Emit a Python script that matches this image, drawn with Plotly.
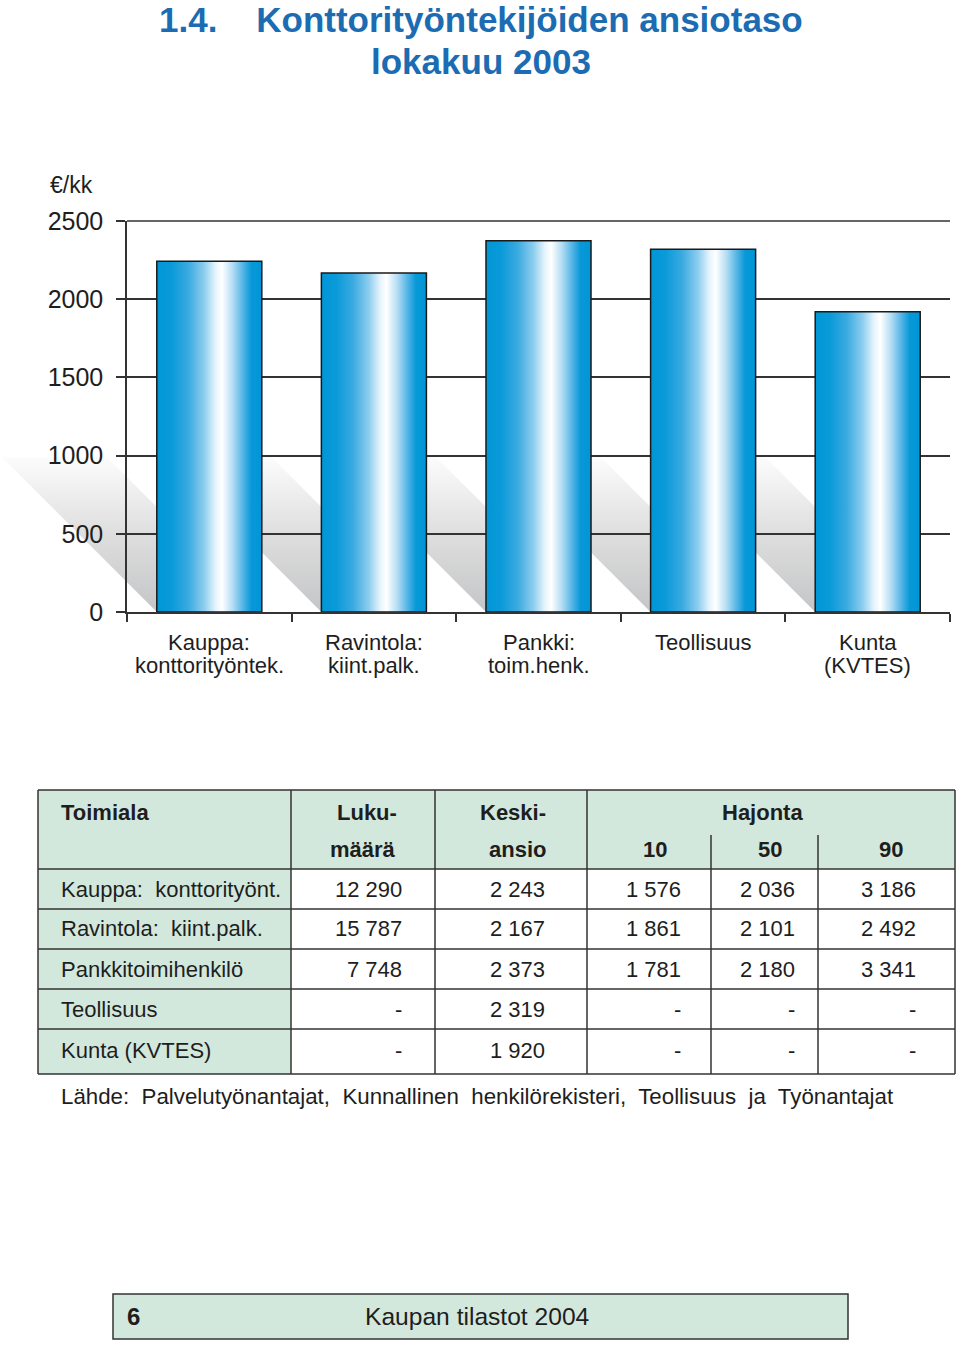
import plotly.graph_objects as go

W, H = 960, 1348

# ---------------- data ----------------
title_line1 = "1.4.\u00a0\u00a0\u00a0 Konttorityöntekijöiden ansiotaso"
title_line2 = "lokakuu 2003"
unit_label = "€/kk"

cat_line1 = ["Kauppa:", "Ravintola:", "Pankki:", "Teollisuus", "Kunta"]
cat_line2 = ["konttorityöntek.", "kiint.palk.", "toim.henk.", "", "(KVTES)"]
keskiansio = [2243, 2167, 2373, 2319, 1920]
y_ticks = [0, 500, 1000, 1500, 2000, 2500]

table_header_1 = ["Toimiala", "Luku-", "Keski-", "Hajonta"]
table_header_2 = ["määrä", "ansio", "10", "50", "90"]
row_labels = ["Kauppa:\u00a0 konttorityönt.", "Ravintola:\u00a0 kiint.palk.",
              "Pankkitoimihenkilö", "Teollisuus", "Kunta (KVTES)"]
lukumaara = ["12 290", "15 787", "7 748", "-", "-"]
hajonta_10 = ["1 576", "1 861", "1 781", "-", "-"]
hajonta_50 = ["2 036", "2 101", "2 180", "-", "-"]
hajonta_90 = ["3 186", "2 492", "3 341", "-", "-"]
source_text = ("Lähde:\u00a0 Palvelutyönantajat,\u00a0 Kunnallinen\u00a0 henkilörekisteri,"
               "\u00a0 Teollisuus\u00a0 ja\u00a0 Työnantajat")
footer_page = "6"
footer_text = "Kaupan tilastot 2004"

# ---------------- style / geometry ----------------
FONT = "Liberation Sans, Arial, Helvetica, sans-serif"
TXT = "#1e1e1e"
LINE = "#333333"
GREEN = "#d3e8dc"
TITLE_BLUE = "#1b6cb3"

PL, PR, PY0, PYT = 127, 950, 612, 221  # plot area pixels
YMAX = 2500
ncat = len(keskiansio)
ppu_x = (PR - PL) / ncat
ppu_y = (PY0 - PYT) / YMAX


def X(px):
    return px / W


def Y(py):
    return 1 - py / H


fig = go.Figure()

# shadows (on wide helper subplot)
half_w = 0.319
sh_px = 155
dx = sh_px / ppu_x
dy = sh_px / ppu_y
for i, v in enumerate(keskiansio):
    c = i + 0.5
    xl, xr = c - half_w, c + half_w
    fig.add_trace(go.Scatter(
        x=[xl, xl - dx, xr - dx, xr, xl], y=[0, dy, dy, 0, 0],
        mode="lines", fill="toself", line=dict(width=0, color="rgba(0,0,0,0)"),
        fillgradient=dict(type="vertical",
                          colorscale=[[0, "#c4c5c7"], [0.5, "#dedede"], [1, "#fcfcfc"]]),
        hoverinfo="skip", showlegend=False, xaxis="x", yaxis="y"))

# bars with horizontal gradient
bar_scale = [[0, "#0096d6"], [0.14, "#0a9ad9"], [0.3, "#3aaae0"], [0.45, "#8ccdee"],
             [0.56, "#e6f4fc"], [0.62, "#ffffff"], [0.72, "#b6def4"], [0.82, "#55b5e6"],
             [0.9, "#0898d8"], [1, "#0096d6"]]
for i, v in enumerate(keskiansio):
    c = i + 0.5
    xl, xr = c - half_w, c + half_w
    fig.add_trace(go.Scatter(
        x=[xl, xl, xr, xr, xl], y=[0, v, v, 0, 0],
        mode="lines", fill="toself", line=dict(width=1.5, color="#1a1a1a"),
        fillgradient=dict(type="horizontal", colorscale=bar_scale),
        hoverinfo="skip", showlegend=False, xaxis="x2", yaxis="y2"))

ydom = [Y(PY0), Y(PYT)]
fig.update_layout(
    width=W, height=H, autosize=False,
    margin=dict(l=0, r=0, t=0, b=0, pad=0, autoexpand=False),
    paper_bgcolor="white", plot_bgcolor="rgba(0,0,0,0)",
    font=dict(family=FONT, color=TXT),
    showlegend=False,
    xaxis=dict(domain=[0, X(PR)], range=[-PL / ppu_x, ncat], visible=False,
               anchor="y", fixedrange=True, automargin=False),
    yaxis=dict(domain=ydom, range=[0, YMAX], visible=False, anchor="x",
               fixedrange=True, automargin=False),
    xaxis2=dict(domain=[X(PL), X(PR)], range=[0, ncat], anchor="y2",
                showline=True, linecolor=LINE, linewidth=1.5,
                tickmode="array", tickvals=list(range(ncat + 1)), ticks="outside",
                ticklen=8, tickwidth=1.5, tickcolor=LINE, showticklabels=False,
                showgrid=False, zeroline=False, fixedrange=True, automargin=False),
    yaxis2=dict(domain=ydom, range=[0, YMAX], anchor="x2",
                tickmode="array", tickvals=y_ticks, ticks="outside", ticklen=9,
                tickwidth=1.5, tickcolor=LINE, showline=True, linecolor=LINE,
                linewidth=1.5, showgrid=True, gridcolor=LINE, gridwidth=1.5,
                zeroline=False, tickfont=dict(size=25, color=TXT, family=FONT),
                ticklabelstandoff=8, fixedrange=True, automargin=False),
)

annotations = []
shapes = []

# top gridline (at the range edge, which plotly leaves out)
shapes.append(dict(type="line", xref="paper", yref="paper",
                   x0=X(PL), x1=X(PR), y0=Y(PYT), y1=Y(PYT),
                   line=dict(width=1.5, color=LINE)))


def txt(x, y, text, xanchor="center", size=22, bold=False, color=TXT, family=FONT,
        xref="paper"):
    annotations.append(dict(
        x=x, y=y, xref=xref, yref="paper", text=text, showarrow=False,
        xanchor=xanchor, yanchor="middle",
        font=dict(size=size, color=color, family=family,
                  weight="bold" if bold else "normal")))


# title
txt(X(481), Y(19), title_line1, size=35, bold=True, color=TITLE_BLUE)
txt(X(481), Y(61), title_line2, size=35, bold=True, color=TITLE_BLUE)
txt(X(48), Y(185), unit_label, xanchor="left", size=23)

# category labels
for i in range(ncat):
    txt(i + 0.5, Y(642), cat_line1[i], size=22, xref="x2")
    if cat_line2[i]:
        txt(i + 0.5, Y(665), cat_line2[i], size=22, xref="x2")

# ---------------- table ----------------
TL, TR, TT, TB = 38, 955, 790, 1074
HB = 869
row_lines = [869, 909, 949, 989, 1029]
col_lines = [291, 435, 587]
sub_cols = [711, 818]


def rect(x0, y0, x1, y1, fill, lw=0):
    shapes.append(dict(type="rect", xref="paper", yref="paper",
                       x0=X(x0), x1=X(x1), y0=Y(y1), y1=Y(y0),
                       fillcolor=fill, line=dict(width=lw, color=LINE), layer="below"))


def line(x0, y0, x1, y1, lw=1.5):
    shapes.append(dict(type="line", xref="paper", yref="paper",
                       x0=X(x0), x1=X(x1), y0=Y(y0), y1=Y(y1),
                       line=dict(width=lw, color=LINE)))


rect(TL, TT, TR, HB, GREEN)
rect(TL, HB, col_lines[0], TB, GREEN)
for yy in [TT] + row_lines + [TB]:
    line(TL, yy, TR, yy)
for xx in [TL] + col_lines + [TR]:
    line(xx, TT, xx, TB)
for xx in sub_cols:
    line(xx, 835, xx, TB)

H1, H2 = 812, 849
txt(X(59), Y(H1), table_header_1[0], xanchor="left", bold=True)
txt(X(399), Y(H1), table_header_1[1], xanchor="right", bold=True)
txt(X(548), Y(H1), table_header_1[2], xanchor="right", bold=True)
txt(X(762), Y(H1), table_header_1[3], bold=True)
hdr2_x = [398, 548, 669, 784, 905]
for hx, ht in zip(hdr2_x, table_header_2):
    txt(X(hx), Y(H2), ht, xanchor="right", bold=True)

keskiansio_txt = [f"{v:,}".replace(",", " ") for v in keskiansio]
row_y = [889, 929, 969, 1009, 1050]
num_x = [404, 547, 683, 797, 918]
cols = [lukumaara, keskiansio_txt, hajonta_10, hajonta_50, hajonta_90]
for r, ry in enumerate(row_y):
    txt(X(59), Y(ry), row_labels[r], xanchor="left")
    for cx, col in zip(num_x, cols):
        txt(X(cx), Y(ry), col[r], xanchor="right")

txt(X(59), Y(1096), source_text, xanchor="left", size=22.3)

# footer
shapes.append(dict(type="rect", xref="paper", yref="paper",
                   x0=X(113), x1=X(848), y0=Y(1339), y1=Y(1294),
                   fillcolor=GREEN, line=dict(width=1.5, color=LINE), layer="below"))
txt(X(125), Y(1316), footer_page, xanchor="left", size=24, bold=True)
txt(X(477), Y(1316), footer_text, size=24.6)

fig.update_layout(annotations=annotations, shapes=shapes)
fig.write_html("out.html")
